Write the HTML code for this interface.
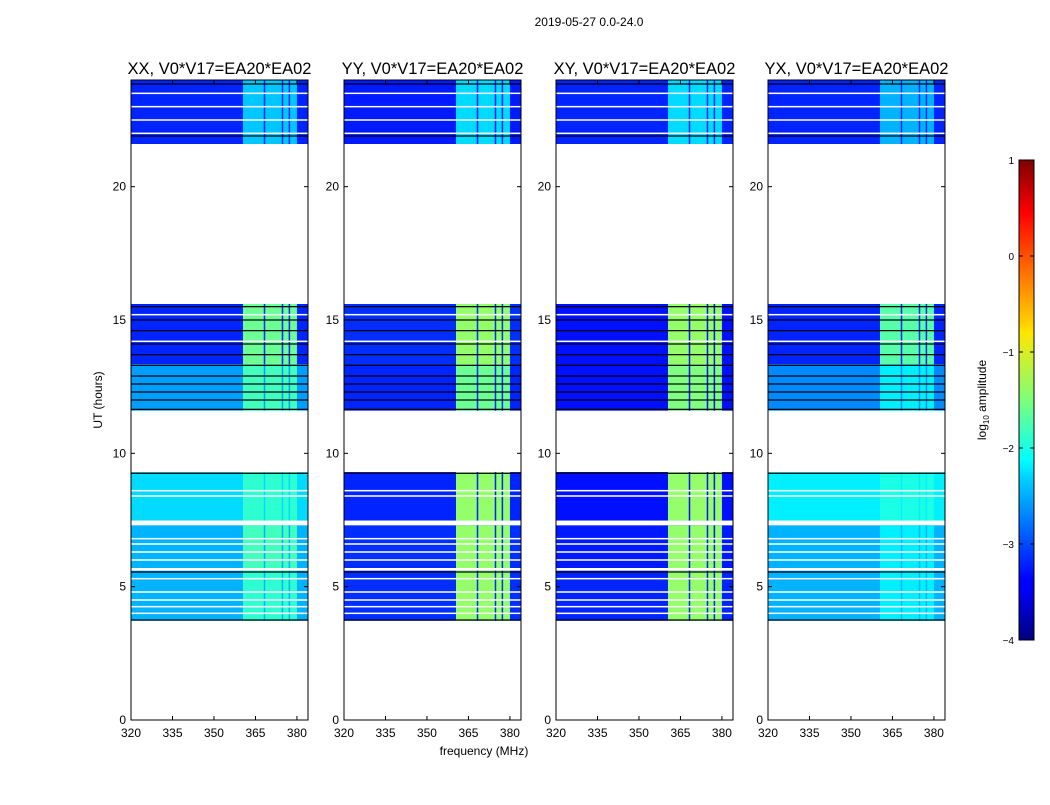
<!DOCTYPE html>
<html><head><meta charset="utf-8"><style>
body{margin:0;background:#fff;font-family:"Liberation Sans",sans-serif;}
svg text{font-family:"Liberation Sans",sans-serif;}
</style></head><body>
<svg id="fig" width="1050" height="800" xmlns="http://www.w3.org/2000/svg">
<rect width="1050" height="800" fill="#fff"/>
<text x="589" y="26" font-size="12" text-anchor="middle">2019-05-27 0.0-24.0</text>
<text x="484" y="755" font-size="12" text-anchor="middle">frequency (MHz)</text>
<text transform="translate(102,400) rotate(-90)" font-size="12" text-anchor="middle">UT (hours)</text>
<g id="panels"></g>
<defs><linearGradient id="jet" x1="0" y1="1" x2="0" y2="0">
<stop offset="0" stop-color="#00007f"/><stop offset="0.11" stop-color="#0000ff"/><stop offset="0.125" stop-color="#0000ff"/>
<stop offset="0.34" stop-color="#00d4ff"/><stop offset="0.375" stop-color="#00ffff"/><stop offset="0.5" stop-color="#7dff7a"/>
<stop offset="0.64" stop-color="#ffe600"/><stop offset="0.66" stop-color="#ffd000"/><stop offset="0.89" stop-color="#ff0000"/><stop offset="1" stop-color="#7f0000"/>
</linearGradient></defs>
<rect x="1019" y="160" width="15" height="480" fill="url(#jet)" stroke="#000"/>
<g id="cbticks"></g>
<text transform="translate(986,400) rotate(-90)" font-size="12" text-anchor="middle">log<tspan font-size="8" dy="3">10</tspan><tspan dy="-3"> amplitude</tspan></text>
</svg>
<script>
const panelNames=["XX","YY","XY","YX"];
const panelX=[131,344,556,768];
const segStart=[3.72,5.7,7.48,11.6,13.35,21.6];
const segEnd=[5.6,7.3,9.3,13.35,15.6,24.0];
const bgVals=[[-2.5,-2.5,-2.3,-2.6,-3.2,-3.2],[-3.15,-3.15,-3.2,-3.2,-3.15,-3.25],[-3.2,-3.25,-3.3,-3.3,-3.3,-3.2],[-2.5,-2.5,-2.2,-2.7,-3.2,-3.2]];
const bandVals=[[-1.9,-1.8,-1.9,-1.8,-1.6,-2.4],[-1.4,-1.4,-1.4,-1.6,-1.4,-2.3],[-1.4,-1.4,-1.4,-1.5,-1.4,-2.3],[-2.2,-2.2,-2.0,-2.2,-1.7,-2.5]];
const bandLo=360.5,bandHi=380;
const darkCols=[368,374.5,377];
const whiteLines=[4.0,4.25,4.5,4.8,5.3,6.0,6.3,6.6,6.8,8.4,8.6,22.0,22.5,23.0,23.5,14.2,15.2];
const blackLines=[3.75,5.55,9.25,11.65,12.0,12.3,12.6,12.9,13.3,13.7,14.1,14.6,15.0,15.5,21.9,23.85];
const xTicks=[320,335,350,365,380];
const yTicks=[0,5,10,15,20];
const cbTicks=[1,0,-1,-2,-3,-4];
const F0=320,F1=384,T0=0,T1=24,PW=177,PY0=80,PY1=720;
const NS="http://www.w3.org/2000/svg";
function jet(v){let t=Math.max(0,Math.min(1,(v+4)/5));
 const c=x=>Math.round(255*Math.max(0,Math.min(1,1.5-Math.abs(4*t-x))));
 return `rgb(${c(3)},${c(2)},${c(1)})`;}
function el(tag,attrs,parent){const e=document.createElementNS(NS,tag);for(const k in attrs)e.setAttribute(k,attrs[k]);parent.appendChild(e);return e;}
const yS=t=>PY1-(t-T0)/(T1-T0)*(PY1-PY0);
const root=document.getElementById('panels');
panelNames.forEach((nm,p)=>{
 const x0=panelX[p];const xS=f=>x0+(f-F0)/(F1-F0)*PW;
 const g=el('g',{},root);
 
 
 segStart.forEach((s,i)=>{
  const y1=yS(segEnd[i]),y2=yS(s);
  const r=el('rect',{x:xS(F0),y:y1,width:xS(F1)-xS(F0),height:y2-y1,fill:jet(bgVals[p][i])},g);
  
  
  const b=el('rect',{x:xS(bandLo),y:y1,width:xS(bandHi)-xS(bandLo),height:y2-y1,fill:jet(bandVals[p][i])},g);
  
  
  darkCols.forEach(f=>{const d=el('rect',{x:xS(f),y:y1,width:1.5,height:y2-y1,fill:jet(bgVals[p][i])},g);
   
   });
 });
 whiteLines.forEach(t=>{const l=el('rect',{x:x0,y:yS(t)-0.75,width:PW,height:1.5,fill:'#fff'},g);
  
  });
 blackLines.forEach(t=>{const l=el('rect',{x:x0,y:yS(t)-0.6,width:PW,height:1.2,fill:'#000'},g);
  
  });
 const fr=el('rect',{x:x0,y:PY0,width:PW,height:PY1-PY0,fill:'none',stroke:'#000','stroke-width':1},g);
 
 
 const tt=el('text',{x:x0+PW/2,y:74,'font-size':16.5,'text-anchor':'middle'},g);tt.textContent=nm+', V0*V17=EA20*EA02';
 
 
 xTicks.forEach(f=>{el('line',{x1:xS(f),x2:xS(f),y1:PY1,y2:PY1-4,stroke:'#000'},g);el('line',{x1:xS(f),x2:xS(f),y1:PY0,y2:PY0+4,stroke:'#000'},g);
  const t=el('text',{x:xS(f),y:737,'font-size':12,'text-anchor':'middle'},g);t.textContent=f;
  
  });
 yTicks.forEach(v=>{el('line',{x1:x0,x2:x0+4,y1:yS(v),y2:yS(v),stroke:'#000'},g);el('line',{x1:x0+PW,x2:x0+PW-4,y1:yS(v),y2:yS(v),stroke:'#000'},g);
  const t=el('text',{x:x0-5,y:yS(v)+4,'font-size':12,'text-anchor':'end'},g);t.textContent=v;
  
  });
});
const cg=document.getElementById('cbticks');
cbTicks.forEach(v=>{const y=640-(v+4)/5*480;
 el('line',{x1:1019,x2:1023,y1:y,y2:y,stroke:'#000'},cg);el('line',{x1:1034,x2:1030,y1:y,y2:y,stroke:'#000'},cg);
 const t=el('text',{x:1014,y:y+4,'font-size':10,'text-anchor':'end'},cg);t.textContent=v<0?'\u2212'+(-v):v;
 
 });
</script>
</body></html>
